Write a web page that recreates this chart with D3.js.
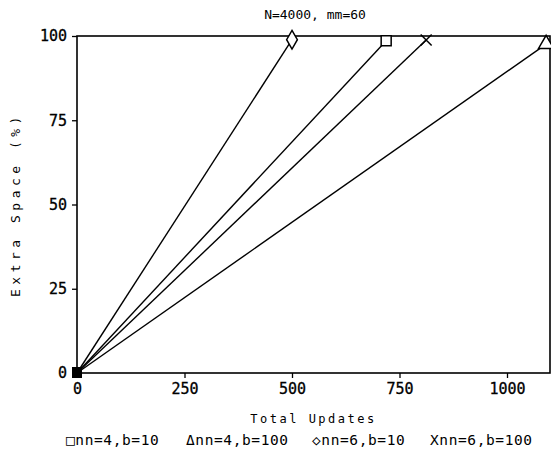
<!DOCTYPE html>
<html>
<head>
<meta charset="utf-8">
<script src="https://cdn.jsdelivr.net/npm/d3@7"></script>
<style>
  body { margin: 0; background: #fff; }
  text { font-family: "DejaVu Sans Mono", monospace; fill: #000; }
</style>
</head>
<body>
<div id="chart"></div>
<script>
// series: nn / b settings, each from origin to end point
const seriesNames = ['nn=4,b=10', 'nn=4,b=100', 'nn=6,b=10', 'nn=6,b=100'];
const seriesSymbols = ['square', 'triangle', 'diamond', 'cross'];
const seriesUpdates = [[0, 719], [0, 1091], [0, 500], [0, 812]];
const seriesSpace = [[0, 98.6], [0, 97.6], [0, 98.9], [0, 98.8]];
const xTicks = [0, 250, 500, 750, 1000];
const yTicks = [0, 25, 50, 75, 100];
const legendLabels = ['\u25a1nn=4,b=10', '\u0394nn=4,b=100', '\u25c7nn=6,b=10', 'Xnn=6,b=100'];

let width = 551,
    height = 453;
let margin = {left: 77, right: 1, top: 36, bottom: 80};

let svg = d3.select('#chart').append('svg')
    .attr('width', width)
    .attr('height', height);

let x = d3.scaleLinear().domain([0, 1100]).range([margin.left, width - margin.right]);
let y = d3.scaleLinear().domain([0, 100]).range([height - margin.bottom, margin.top]);

// frame
svg.append('rect')
    .attr('x', x(0)).attr('y', y(100))
    .attr('width', x(1100) - x(0)).attr('height', y(0) - y(100))
    .attr('fill', 'none').attr('stroke', '#000').attr('stroke-width', 1.6);

let xAxis = svg.append('g')
    .attr('transform', 'translate(0,' + y(0) + ')')
    .call(d3.axisBottom(x).tickValues(xTicks).tickFormat(d3.format('d')).tickSize(5).tickPadding(5));
let yAxis = svg.append('g')
    .attr('transform', 'translate(' + x(0) + ',0)')
    .call(d3.axisLeft(y).tickValues(yTicks).tickFormat(d3.format('d')).tickSize(5).tickPadding(5));
[xAxis, yAxis].forEach(a => {
    a.select('.domain').remove();
    a.selectAll('line').attr('stroke', '#000').attr('stroke-width', 1.3);
    a.selectAll('text')
        .style('font-size', '15px')
        .style('stroke', '#000')
        .style('stroke-width', 0.3);
});

// title and axis labels
svg.append('text')
    .attr('x', 315).attr('y', 19)
    .attr('text-anchor', 'middle')
    .style('font-size', '13px')
    .text('N=4000, mm=60');
svg.append('text')
    .attr('x', x(550)).attr('y', 423)
    .attr('text-anchor', 'middle')
    .style('font-size', '12px')
    .style('letter-spacing', '2.5px')
    .text('Total Updates');
svg.append('text')
    .attr('transform', 'translate(20,' + y(50) + ') rotate(-90)')
    .attr('text-anchor', 'middle')
    .style('font-size', '13px')
    .style('letter-spacing', '4.5px')
    .text('Extra Space (%)');

// lines and markers
let line = d3.line()
    .x(d => x(d[0]))
    .y(d => y(d[1]));

seriesNames.forEach((name, i) => {
    let pts = seriesUpdates[i].map((u, j) => [u, seriesSpace[i][j]]);
    svg.append('path')
        .attr('d', line(pts))
        .attr('fill', 'none')
        .attr('stroke', '#000')
        .attr('stroke-width', 1.4);
    let sym = seriesSymbols[i] === 'cross' ? d3.symbolTimes
        : seriesSymbols[i] === 'square' ? d3.symbolSquare
        : seriesSymbols[i] === 'triangle' ? d3.symbolTriangle : d3.symbolDiamond;
    let last = pts[pts.length - 1];
    svg.append('path')
        .attr('d', d3.symbol().type(sym).size(seriesSymbols[i] === 'cross' ? 80 : 100)())
        .attr('transform', 'translate(' + x(last[0]) + ',' + y(last[1]) + ')')
        .attr('fill', '#fff')
        .attr('stroke', '#000')
        .attr('stroke-width', 1.5);
    // start markers overlap at the origin
    svg.append('rect')
        .attr('x', x(pts[0][0]) - 5).attr('y', y(pts[0][1]) - 6)
        .attr('width', 10).attr('height', 11)
        .attr('fill', '#000');
});

// legend
let legendX = [66, 186, 312, 430];
legendLabels.forEach((lab, i) => {
    svg.append('text')
        .attr('x', legendX[i]).attr('y', 445)
        .style('font-size', '14.5px')
        .style('letter-spacing', '0.6px')
        .text(lab);
});
</script>
</body>
</html>
